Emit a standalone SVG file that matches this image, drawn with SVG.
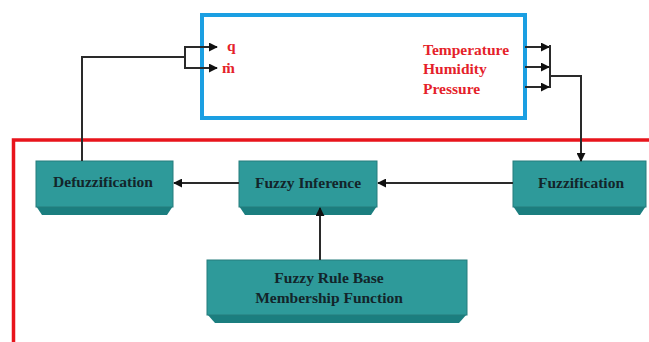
<svg xmlns="http://www.w3.org/2000/svg" width="649" height="342" viewBox="0 0 649 342">
<style>
.body{fill:#2e9a9a;stroke:#257d7d;stroke-width:1}
.bevel{fill:#1b7e7f}
.lbl{font-family:"Liberation Serif",serif;font-weight:bold;font-size:15.5px;fill:#13252a;text-anchor:middle}
.red{font-family:"Liberation Serif",serif;font-weight:bold;font-size:15.5px;fill:#e51f2b}
.conn{fill:none;stroke:#2a2a2a;stroke-width:2}
</style>
<defs>
<marker id="ah" viewBox="0 0 10 10" refX="9" refY="5" markerWidth="4.5" markerHeight="4.5" orient="auto">
<path d="M0,0 L10,5 L0,10 z" fill="#111"/>
</marker>
</defs>
<rect width="649" height="342" fill="#ffffff"/>
<g id="plant">
<rect x="202" y="15" width="323" height="103" fill="none" stroke="#1b9fe2" stroke-width="4"/>
<text class="red" x="227" y="51">q</text>
<text class="red" x="222" y="73">ṁ</text>
<text class="red" x="423" y="55">Temperature</text>
<text class="red" x="423" y="74">Humidity</text>
<text class="red" x="423" y="94">Pressure</text>
</g>
<g id="controller">
<path d="M13.5,342 V140 H649" fill="none" stroke="#e8141c" stroke-width="3.5"/>
</g>
<g id="defuzzification">
<polygon class="bevel" points="36,206 173,206 167,215 42,215"/>
<rect class="body" x="36" y="161" width="137" height="46"/>
<text class="lbl" x="103" y="187">Defuzzification</text>
</g>
<g id="fuzzy-inference">
<polygon class="bevel" points="239,206 377,206 371,215 245,215"/>
<rect class="body" x="239" y="161" width="138" height="46"/>
<text class="lbl" x="308" y="188">Fuzzy Inference</text>
</g>
<g id="fuzzification">
<polygon class="bevel" points="513,206 646,206 640,215 519,215"/>
<rect class="body" x="513" y="161" width="133" height="46"/>
<text class="lbl" x="581" y="188">Fuzzification</text>
</g>
<g id="rule-base">
<polygon class="bevel" points="207,314 467,314 459,323 215,323"/>
<rect class="body" x="207" y="260" width="260" height="55"/>
<text class="lbl" x="329" y="283">Fuzzy Rule Base</text>
<text class="lbl" x="329" y="303">Membership Function</text>
</g>
<g id="connectors">
<line class="conn" x1="513" y1="183" x2="378" y2="183" marker-end="url(#ah)"/>
<line class="conn" x1="239" y1="183" x2="174" y2="183" marker-end="url(#ah)"/>
<line class="conn" x1="320" y1="260" x2="320" y2="208" marker-end="url(#ah)"/>
<path class="conn" d="M82,161 V57 H185"/>
<path class="conn" d="M185,46 V69"/>
<line class="conn" x1="184" y1="47" x2="217" y2="47" marker-end="url(#ah)"/>
<line class="conn" x1="184" y1="68" x2="217" y2="68" marker-end="url(#ah)"/>
<line class="conn" x1="525" y1="47" x2="549" y2="47" marker-end="url(#ah)"/>
<line class="conn" x1="525" y1="67" x2="549" y2="67" marker-end="url(#ah)"/>
<line class="conn" x1="525" y1="87" x2="549" y2="87" marker-end="url(#ah)"/>
<path class="conn" d="M550,45 V88"/>
<path class="conn" d="M550,76 H581 V161" marker-end="url(#ah)"/>
</g>
</svg>
